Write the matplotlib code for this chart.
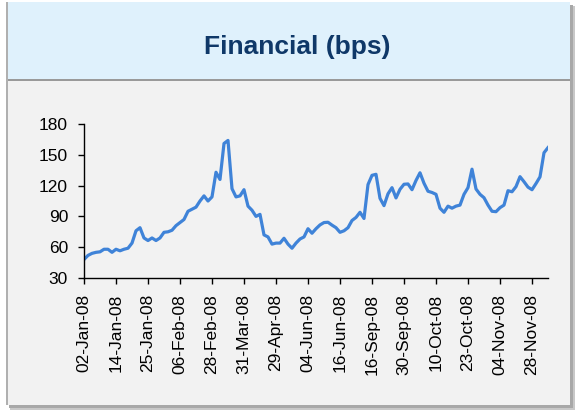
import matplotlib
matplotlib.use("Agg")
import matplotlib.pyplot as plt
from matplotlib.patches import Rectangle

# ---- data ----
tick_labels = ["02-Jan-08", "14-Jan-08", "25-Jan-08", "06-Feb-08", "28-Feb-08",
               "31-Mar-08", "29-Apr-08", "04-Jun-08", "16-Jun-08", "16-Sep-08",
               "30-Sep-08", "10-Oct-08", "23-Oct-08", "04-Nov-08", "28-Nov-08"]
label_every = 8

spread_bps = [48, 52, 54, 55, 55.5, 58, 58, 55, 58, 56.5, 58, 59, 64, 76, 79, 69,
              66.5, 69, 66.5, 69, 74.5, 75, 76.5, 81, 84, 87, 95, 97, 99, 105, 110, 105,
              109, 133, 126, 161, 164, 117, 109, 110, 116, 100, 96, 90, 92, 72,
              70, 63, 64, 64, 68.7, 63, 59, 64, 68, 70, 78, 73.6, 78, 81.7, 84, 84.3,
              81.5, 79, 74.5, 76, 79, 86, 89, 94, 88, 121, 130, 131, 107.6, 100.5,
              112, 118, 108, 116.4, 121.3, 121.6, 116, 125, 132.5, 122.3, 114.5, 113.3,
              111.5, 98, 94, 100, 98, 100, 101, 111.5, 118, 136, 116.7, 111.5, 108.2,
              101, 95, 94.6, 98.5, 101, 115, 114, 119, 128.7, 123.8, 118.5, 116, 122,
              128.5, 152, 157]

title = "Financial (bps)"
yticks = [30, 60, 90, 120, 150, 180]

# ---- figure ----
W, H = 578, 412
plt.rcParams["font.family"] = ["Liberation Sans", "DejaVu Sans"]
fig = plt.figure(figsize=(W / 100, H / 100), dpi=100)
fig.patch.set_facecolor("white")


def rect(x0, y0, x1, y1, **kw):
    r = Rectangle((x0 / W, 1 - y1 / H), (x1 - x0) / W, (y1 - y0) / H,
                  transform=fig.transFigure, **kw)
    fig.patches.append(r)
    return r

# shadow
rect(10, 6, 575, 410, facecolor="#C8C8C8", edgecolor="none", zorder=0)
rect(9, 5, 573, 408, facecolor="#A8A8A8", edgecolor="none", zorder=0)
# left border
rect(6, 2, 9, 405, facecolor="#B0B0B0", edgecolor="none", zorder=0)
# card body
rect(8, 80, 570, 405, facecolor="#F2F2F2", edgecolor="none", zorder=1)
# header
rect(8, 2, 570, 79, facecolor="#DFF1FC", edgecolor="none", zorder=1)
rect(8, 79, 570, 81, facecolor="#9A9A9A", edgecolor="none", zorder=1)

fig.text(297 / W, 1 - 47 / H, title, ha="center", va="center",
         fontsize=19, fontweight="bold", color="#0F3868", zorder=3)

# ---- axes ----
ax = fig.add_axes([84 / W, 1 - 278 / H, (548 - 84) / W, (278 - 124) / H])
ax.set_zorder(5)
ax.set_facecolor("none")
ax.patch.set_alpha(0)
x = list(range(len(spread_bps)))
ax.plot(x, spread_bps, color="#3F83D8", linewidth=2.3, solid_joinstyle="round")

ax.set_xlim(0, len(spread_bps) - 1)
ax.set_ylim(30, 180)
ax.set_yticks(yticks)
ax.set_xticks([i * label_every for i in range(len(tick_labels))])
ax.set_xticklabels(tick_labels, rotation=90)

for s in ["top", "right"]:
    ax.spines[s].set_visible(False)
for s in ["left", "bottom"]:
    ax.spines[s].set_color("black")
    ax.spines[s].set_linewidth(1.0)
ax.tick_params(axis="both", direction="out", length=4.5, width=1.0, colors="black",
               labelsize=12.5)
ax.tick_params(axis="y", pad=7)
ax.tick_params(axis="x", pad=7)

fig.savefig("out.png", dpi=100)
